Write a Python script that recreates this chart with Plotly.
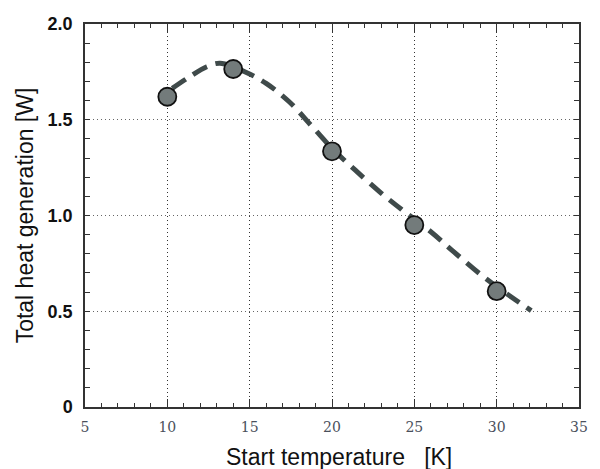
import plotly.graph_objects as go

# Measured points
start_temp = [10, 14, 20, 25, 30]
heat_gen = [1.62, 1.765, 1.335, 0.95, 0.605]

# Fitted trend curve
fit_temp = [10.3, 11.2, 12.4, 13.2, 14.7, 16.0, 17.4, 18.8, 20.1, 21.4, 23.0, 24.4, 26.0, 27.4, 29.2, 31.0, 32.1]
fit_heat = [1.664, 1.716, 1.777, 1.795, 1.751, 1.69, 1.594, 1.464, 1.342, 1.238, 1.116, 1.02, 0.915, 0.81, 0.68, 0.568, 0.503]

x_ticks = [5, 10, 15, 20, 25, 30, 35]
y_ticks = [0, 0.5, 1.0, 1.5, 2.0]
y_tick_text = ["0", "0.5", "1.0", "1.5", "2.0"]

fig = go.Figure()

fig.add_trace(go.Scatter(
    x=fit_temp, y=fit_heat, mode="lines",
    line=dict(color="#3f4a4a", width=5, dash="16px,9px", shape="spline"),
    hoverinfo="skip", showlegend=False,
))

fig.add_trace(go.Scatter(
    x=start_temp, y=heat_gen, mode="markers",
    marker=dict(size=18, color="#737b7b", line=dict(color="#111111", width=1.8)),
    showlegend=False,
))

fig.update_layout(
    width=600, height=469,
    margin=dict(l=85, r=17, t=24, b=62),
    paper_bgcolor="white", plot_bgcolor="white",
    font=dict(family="Liberation Sans, Arial, sans-serif", color="#111111"),
    annotations=[dict(
        text="Start temperature   [K]", xref="paper", yref="paper",
        x=0.514, y=-0.131, xanchor="center", yanchor="middle", showarrow=False,
        font=dict(family="Liberation Sans, Arial, sans-serif", size=23, color="#111111"),
    )],
)

fig.update_xaxes(
    range=[5, 35], tickvals=x_ticks, ticktext=[str(v) for v in x_ticks],
    tickfont=dict(family="DejaVu Serif, Liberation Serif, serif", size=14, color="#4a505c"),
    ticks="inside", ticklen=8, tickcolor="#333333", tickwidth=1,
    ticklabelstandoff=6,
    minor=dict(dtick=1, ticks="inside", ticklen=4, tickcolor="#333333", showgrid=False),
    showgrid=True, gridcolor="#333333", griddash="1px,3px", gridwidth=1.2,
    showline=True, linecolor="#333333", linewidth=1.5, mirror="ticks",
    zeroline=False,
)

fig.update_yaxes(
    range=[0, 2], tickvals=y_ticks, ticktext=y_tick_text,
    tickfont=dict(family="Liberation Sans, Arial, sans-serif", size=18, color="#111111", weight="bold"),
    ticks="inside", ticklen=5, tickcolor="#333333", tickwidth=1,
    ticklabelstandoff=7,
    minor=dict(dtick=0.1, ticks="inside", ticklen=5, tickcolor="#333333", showgrid=False),
    showgrid=True, gridcolor="#666666", griddash="1px,3px", gridwidth=1.2,
    showline=True, linecolor="#333333", linewidth=1.5, mirror="ticks",
    zeroline=False,
    title=dict(text="Total heat generation [W]",
               font=dict(family="Liberation Sans Narrow, Arial Narrow, Liberation Sans, sans-serif",
                         size=23, color="#111111"),
               standoff=8),
)

fig.write_html("out.html")
